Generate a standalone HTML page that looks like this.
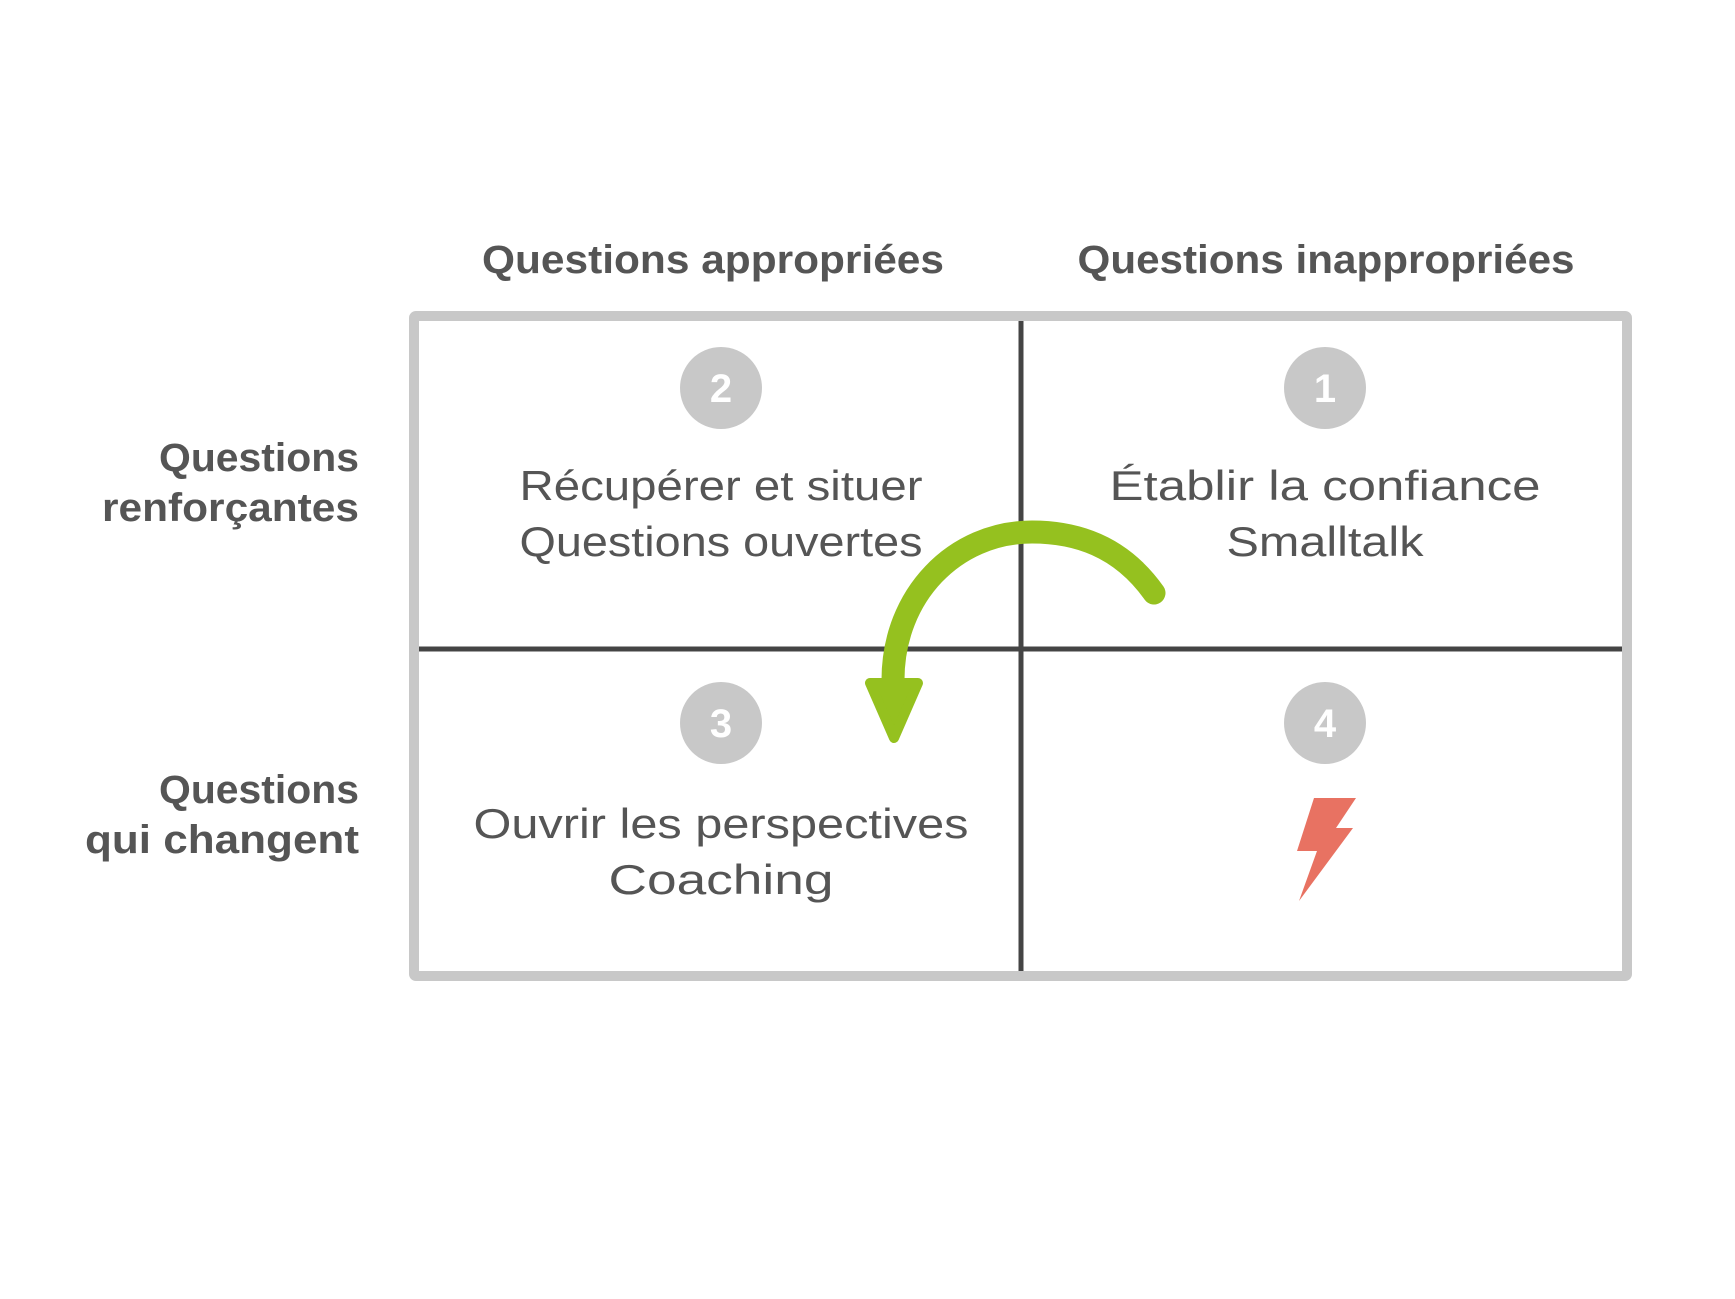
<!DOCTYPE html>
<html><head><meta charset="utf-8"><style>
html,body{margin:0;padding:0;background:#fff;}
svg{display:block;}
</style></head><body>
<svg width="1735" height="1299" viewBox="0 0 1735 1299" xmlns="http://www.w3.org/2000/svg" font-family="Liberation Sans, sans-serif">
<rect width="1735" height="1299" fill="#fff"/>
<line x1="1021" y1="316" x2="1021" y2="976" stroke="#444" stroke-width="5"/>
<line x1="414" y1="649" x2="1627" y2="649" stroke="#444" stroke-width="5"/>
<rect x="414" y="316" width="1213" height="660" fill="none" stroke="#c8c8c8" stroke-width="10" rx="2"/>
<g fill="#555" font-weight="bold" font-size="40">
<text x="713" y="273" text-anchor="middle" textLength="462" lengthAdjust="spacingAndGlyphs">Questions appropriées</text>
<text x="1326" y="273" text-anchor="middle" textLength="497" lengthAdjust="spacingAndGlyphs">Questions inappropriées</text>
<text x="359" y="471" text-anchor="end" textLength="200" lengthAdjust="spacingAndGlyphs">Questions</text>
<text x="359" y="521" text-anchor="end" textLength="257" lengthAdjust="spacingAndGlyphs">renforçantes</text>
<text x="359" y="803" text-anchor="end" textLength="200" lengthAdjust="spacingAndGlyphs">Questions</text>
<text x="359" y="853" text-anchor="end" textLength="274" lengthAdjust="spacingAndGlyphs">qui changent</text>
</g>
<g fill="#c8c8c8">
<circle cx="721" cy="388" r="41"/><circle cx="1325" cy="388" r="41"/>
<circle cx="721" cy="723" r="41"/><circle cx="1325" cy="723" r="41"/>
</g>
<g fill="#fff" font-weight="bold" font-size="40" text-anchor="middle">
<text x="721" y="402">2</text><text x="1325" y="402">1</text>
<text x="721" y="737">3</text><text x="1325" y="737">4</text>
</g>
<g fill="#555" font-size="42" text-anchor="middle">
<text x="721" y="500" textLength="403" lengthAdjust="spacingAndGlyphs">Récupérer et situer</text>
<text x="721" y="556" textLength="403" lengthAdjust="spacingAndGlyphs">Questions ouvertes</text>
<text x="1325" y="500" textLength="431" lengthAdjust="spacingAndGlyphs">Établir la confiance</text>
<text x="1325" y="556" textLength="197" lengthAdjust="spacingAndGlyphs">Smalltalk</text>
<text x="721" y="838" textLength="495" lengthAdjust="spacingAndGlyphs">Ouvrir les perspectives</text>
<text x="721" y="894" textLength="225" lengthAdjust="spacingAndGlyphs">Coaching</text>
</g>
<polygon points="1314,798 1356,798 1336,828 1353,828 1299,901 1317,851 1297,851" fill="#e87262"/>
<path d="M1154,593 C1120,545 1075,532 1032,532 C955,532 893,595 893,680" fill="none" stroke="#95c11f" stroke-width="23" stroke-linecap="round"/>
<polygon points="870,683 918,683 894,738" fill="#95c11f" stroke="#95c11f" stroke-width="10" stroke-linejoin="round"/>
</svg>
</body></html>
